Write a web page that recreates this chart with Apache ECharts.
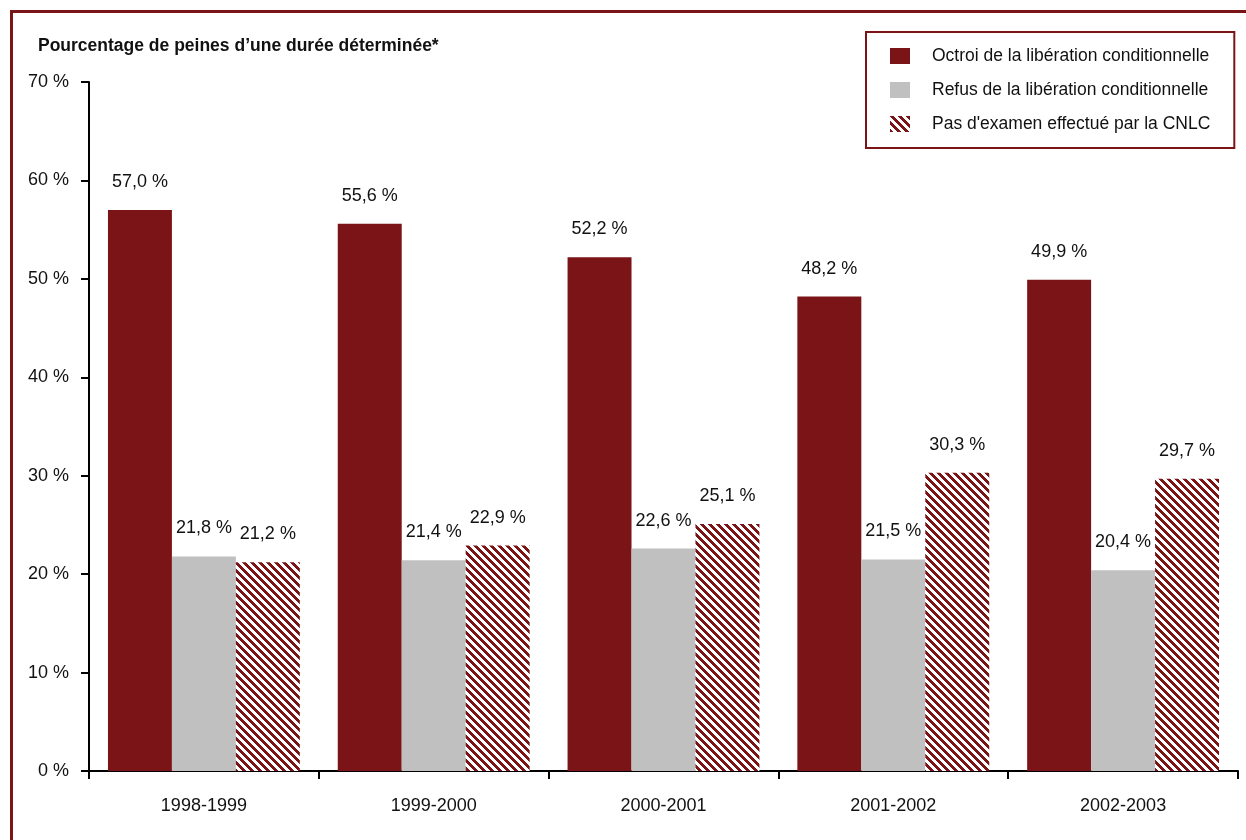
<!DOCTYPE html>
<html>
<head>
<meta charset="utf-8">
<script src="https://cdn.jsdelivr.net/npm/echarts@6/dist/echarts.min.js"></script>
<style>
html,body{margin:0;padding:0;background:#fff;}
#chart{width:1246px;height:840px;}
</style>
</head>
<body>
<div id="chart"></div>
<script>
const categories = ['1998-1999', '1999-2000', '2000-2001', '2001-2002', '2002-2003'];
const seriesNames = ['Octroi de la libération conditionnelle', 'Refus de la libération conditionnelle', "Pas d'examen effectué par la CNLC"];
const octroi = [57.0, 55.6, 52.2, 48.2, 49.9];
const refus = [21.8, 21.4, 22.6, 21.5, 20.4];
const pasExamen = [21.2, 22.9, 25.1, 30.3, 29.7];
const yTicks = [0, 10, 20, 30, 40, 50, 60, 70];
const titleText = 'Pourcentage de peines d\u2019une durée déterminée*';

const DARK = '#7b1416';
const GRAY = '#c0c0c0';
const FONT = '"Liberation Sans", Arial, sans-serif';

function makeHatch() {
  const s = 8;
  const c = document.createElement('canvas');
  c.width = s; c.height = s;
  const ctx = c.getContext('2d');
  const img = ctx.createImageData(s, s);
  for (let j = 0; j < s; j++) {
    for (let i = 0; i < s; i++) {
      const k = (((i - j) % s) + s) % s;
      const idx = (j * s + i) * 4;
      if (k < 4) {
        img.data[idx] = 0x7b; img.data[idx+1] = 0x14; img.data[idx+2] = 0x16;
      } else {
        img.data[idx] = 255; img.data[idx+1] = 255; img.data[idx+2] = 255;
      }
      img.data[idx+3] = 255;
    }
  }
  ctx.putImageData(img, 0, 0);
  return c;
}
const hatch = { image: makeHatch(), repeat: 'repeat' };

const fmt = p => p.value.toFixed(1).replace('.', ',') + ' %';
const labelCfg = { show: true, position: 'top', distance: 19, formatter: fmt, color: '#111', fontSize: 18, fontFamily: FONT };

const chart = echarts.init(document.getElementById('chart'), null, { renderer: 'canvas' });
chart.setOption({
  animation: false,
  backgroundColor: '#fff',
  textStyle: { fontFamily: FONT },
  graphic: [{
    type: 'rect', silent: true,
    shape: { x: 11.5, y: 11.5, width: 1400, height: 1000 },
    style: { fill: null, stroke: DARK, lineWidth: 3 }
  }],
  title: {
    text: titleText, left: 33, top: 32,
    textStyle: { fontSize: 17.5, fontWeight: 'bold', color: '#111', fontFamily: FONT }
  },
  legend: {
    orient: 'vertical', left: 866, top: 32,
    padding: [15, 24, 15, 24],
    borderColor: DARK, borderWidth: 2, backgroundColor: '#fff',
    icon: 'rect',
    itemWidth: 20, itemHeight: 16, itemGap: 16,
    textStyle: { fontSize: 17.5, color: '#111', fontFamily: FONT, lineHeight: 18, padding: [0, 0, 0, 17] },
    data: seriesNames
  },
  grid: { left: 89, right: 8, top: 82, bottom: 69, containLabel: false },
  xAxis: {
    type: 'category', data: categories,
    axisLine: { lineStyle: { color: '#000', width: 2 } },
    axisTick: { show: true, alignWithLabel: false, length: 8, lineStyle: { color: '#000', width: 2 } },
    axisLabel: { color: '#111', fontSize: 18, margin: 26, fontFamily: FONT }
  },
  yAxis: {
    type: 'value', min: yTicks[0], max: yTicks[yTicks.length - 1], interval: 10,
    axisLine: { show: true, lineStyle: { color: '#000', width: 2 } },
    axisTick: { show: true, length: 8, lineStyle: { color: '#000', width: 2 } },
    splitLine: { show: false },
    axisLabel: { color: '#111', fontSize: 18, margin: 20, formatter: '{value} %', fontFamily: FONT }
  },
  series: [
    { name: seriesNames[0], type: 'bar', data: octroi, barGap: '0%', barCategoryGap: '16.5%', itemStyle: { color: DARK }, label: labelCfg },
    { name: seriesNames[1], type: 'bar', data: refus, barGap: '0%', barCategoryGap: '16.5%', itemStyle: { color: GRAY }, label: labelCfg },
    { name: seriesNames[2], type: 'bar', data: pasExamen, barGap: '0%', barCategoryGap: '16.5%', itemStyle: { color: hatch }, label: labelCfg }
  ]
});
</script>
</body>
</html>
